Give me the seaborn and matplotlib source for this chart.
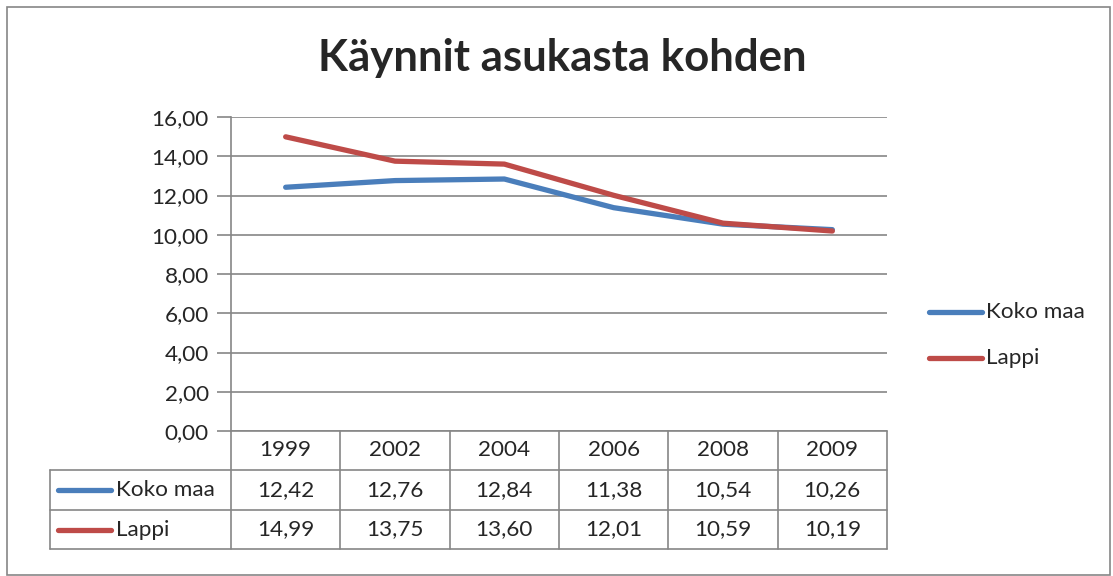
import matplotlib
matplotlib.use("Agg")
import matplotlib.pyplot as plt
import seaborn as sns
import pandas as pd
from matplotlib.lines import Line2D
from matplotlib.patches import Rectangle

# Chart data
years = ["1999", "2002", "2004", "2006", "2008", "2009"]
koko_maa = [12.42, 12.76, 12.84, 11.38, 10.54, 10.26]
lappi = [14.99, 13.75, 13.60, 12.01, 10.59, 10.19]
series_names = ["Koko maa", "Lappi"]
y_ticks = [0, 2, 4, 6, 8, 10, 12, 14, 16]

COLORS = {"Koko maa": "#4A7EBB", "Lappi": "#BE4B48"}
GRID = "#868686"
W, H = 1113, 576
FS = 16.2

sns.set_style("white")
plt.rcParams["font.family"] = ["Lato", "DejaVu Sans"]


def fmt(v):
    return f"{v:.2f}".replace(".", ",")


df = pd.DataFrame({
    "pos": list(range(len(years))) * 2,
    "value": koko_maa + lappi,
    "series": [series_names[0]] * len(years) + [series_names[1]] * len(years),
})

fig = plt.figure(figsize=(W / 100, H / 100), dpi=100)

# pixel helpers in figure coords
def fx(px):
    return px / W


def fy(py):
    return 1 - py / H


left, right, top, bottom = 231, 887, 117, 431
ax = fig.add_axes([fx(left), fy(bottom), (right - left) / W, (bottom - top) / H])

sns.lineplot(data=df, x="pos", y="value", hue="series", palette=COLORS,
             linewidth=3.8, ax=ax, legend=False, solid_capstyle="round")

ax.set_xlim(-0.5, len(years) - 0.5)
ax.set_ylim(0, 16)
ax.set_yticks(y_ticks)
ax.set_yticklabels([fmt(t) for t in y_ticks], fontsize=FS)
ax.set_xticks([])
ax.set_xlabel("")
ax.set_ylabel("")
ax.yaxis.grid(True, color=GRID, linewidth=1.2)
ax.set_axisbelow(True)
for side in ["top", "right", "bottom"]:
    ax.spines[side].set_visible(False)
ax.spines["left"].set_color(GRID)
ax.spines["left"].set_linewidth(1.2)
ax.tick_params(axis="y", length=10, width=1.2, color=GRID, pad=6, left=True)

# title
fig.text(fx(562), fy(58), "Käynnit asukasta kohden", ha="center", va="center",
         fontsize=31.5, fontweight="bold")

# legend on right
for i, name in enumerate(series_names):
    yy = fy(312 + 46 * i)
    fig.add_artist(Line2D([fx(929), fx(982)], [yy, yy], color=COLORS[name],
                          linewidth=3.8, solid_capstyle="round"))
    fig.text(fx(986), yy, name, ha="left", va="center", fontsize=FS)

# data table
col_w = (right - left) / len(years)
rows = [bottom, 470, 510, 549]
tab_left = 50
lw = 1.2
# horizontal lines
fig.add_artist(Line2D([fx(left), fx(right)], [fy(rows[0])] * 2, color=GRID, lw=lw))
for r in rows[1:]:
    fig.add_artist(Line2D([fx(tab_left), fx(right)], [fy(r)] * 2, color=GRID, lw=lw))
# vertical lines
fig.add_artist(Line2D([fx(tab_left)] * 2, [fy(rows[1]), fy(rows[3])], color=GRID, lw=lw))
for j in range(len(years) + 1):
    x = left + j * col_w
    fig.add_artist(Line2D([fx(x)] * 2, [fy(rows[0]), fy(rows[3])], color=GRID, lw=lw))

for j, yr in enumerate(years):
    cx = left + (j + 0.5) * col_w
    fig.text(fx(cx), fy((rows[0] + rows[1]) / 2), yr, ha="center", va="center", fontsize=FS)
    for i, vals in enumerate([koko_maa, lappi]):
        fig.text(fx(cx), fy((rows[i + 1] + rows[i + 2]) / 2), fmt(vals[j]),
                 ha="center", va="center", fontsize=FS)

for i, name in enumerate(series_names):
    yy = fy((rows[i + 1] + rows[i + 2]) / 2)
    fig.add_artist(Line2D([fx(58), fx(111)], [yy, yy], color=COLORS[name],
                          linewidth=3.8, solid_capstyle="round"))
    fig.text(fx(116), yy, name, ha="left", va="center", fontsize=FS)

# outer chart border
fig.add_artist(Rectangle((fx(7), fy(575)), (1110 - 7) / W, (575 - 7) / H,
                         fill=False, edgecolor=GRID, linewidth=1.2,
                         transform=fig.transFigure))

plt.savefig("out.png", dpi=100)
